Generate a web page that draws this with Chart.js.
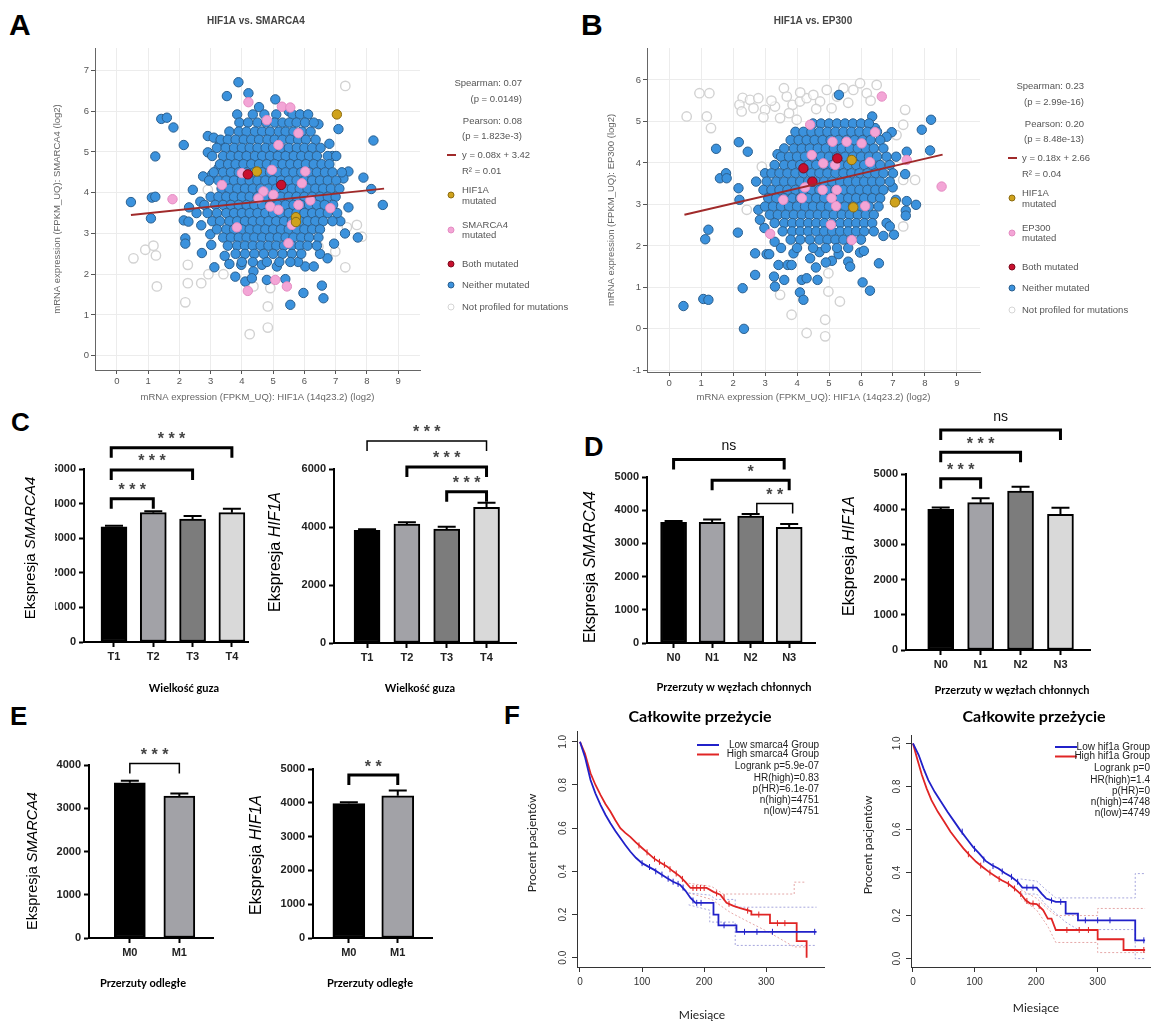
<!DOCTYPE html>
<html lang="pl">
<head>
<meta charset="utf-8">
<title>HIF1A, SMARCA4, EP300</title>
<script src="https://cdn.jsdelivr.net/npm/chart.js@4.4.1/dist/chart.umd.min.js"></script>
<style>
  body { margin: 0; background: #fff; }
  #page { position: relative; width: 1155px; height: 1023px; overflow: hidden; background: #fff; }
  #page canvas { position: absolute; left: 0; top: 0; }
  .panel { position: absolute; font-family: "Liberation Sans", Arial, sans-serif; font-weight: bold; line-height: 1; color: #000; }
</style>
</head>
<body>
<div id="page">
  <div class="panel" style="left:9px;top:10px;font-size:30px">A</div>
  <div class="panel" style="left:581px;top:10px;font-size:30px">B</div>
  <div class="panel" style="left:11px;top:409px;font-size:26px">C</div>
  <div class="panel" style="left:584px;top:434px;font-size:27px">D</div>
  <div class="panel" style="left:10px;top:703px;font-size:26px">E</div>
  <div class="panel" style="left:504px;top:702px;font-size:26px">F</div>
  <canvas id="chartA" width="1155" height="1023"></canvas>
  <canvas id="chartB" width="1155" height="1023"></canvas>
  <canvas id="chartC1" width="1155" height="1023"></canvas>
  <canvas id="chartC2" width="1155" height="1023"></canvas>
  <canvas id="chartD1" width="1155" height="1023"></canvas>
  <canvas id="chartD2" width="1155" height="1023"></canvas>
  <canvas id="chartE1" width="1155" height="1023"></canvas>
  <canvas id="chartE2" width="1155" height="1023"></canvas>
  <canvas id="chartF1" width="1155" height="1023"></canvas>
  <canvas id="chartF2" width="1155" height="1023"></canvas>
</div>
<script>
const W = 1155, H = 1023;
const SANS = '"Liberation Sans", Arial, sans-serif';
const HUMAN = 'Lato, "Open Sans", sans-serif';
Chart.defaults.font.family = SANS;

// ---------- A: HIF1A vs SMARCA4 (log2 expression) ----------
const aFit = [[0.45, 3.45], [8.55, 4.1]];
const aBoth = [[4.19, 4.45], [5.26, 4.19]];
const aHifMut = [[4.48, 4.52], [5.73, 3.4], [5.73, 3.28], [7.04, 5.92]];
const aSmarcaMut = [[4.21, 6.22], [5.28, 6.11], [5.55, 6.09], [4.8, 5.78], [5.81, 5.46], [5.17, 5.17], [4.0, 4.48],
  [4.96, 4.56], [6.03, 4.52], [4.69, 4.03], [5.01, 3.95], [3.36, 4.19], [4.91, 3.66], [5.17, 3.58], [5.81, 3.7],
  [6.19, 3.81], [6.83, 3.62], [1.78, 3.84], [3.84, 3.15], [5.6, 3.21], [5.49, 2.76], [5.07, 1.86], [5.44, 1.7],
  [4.19, 1.59], [5.92, 4.23], [4.53, 3.86]];
const aNeitherOut = [[0.45, 3.77], [1.09, 3.37], [1.12, 3.88], [1.23, 3.9], [1.23, 4.89], [1.42, 5.81], [1.6, 5.84],
  [1.81, 5.6], [2.14, 5.17], [2.14, 3.32], [2.29, 3.29], [2.31, 3.64], [2.19, 2.88], [2.19, 2.75], [2.43, 4.07],
  [2.67, 3.78], [2.72, 2.52], [3.02, 2.72], [2.99, 2.98], [3.12, 2.17], [2.76, 4.4], [2.91, 5.39], [2.91, 4.99],
  [3.52, 6.37], [3.89, 6.71], [3.79, 1.94], [4.11, 1.82], [4.21, 6.44], [5.07, 6.29], [5.55, 1.25], [5.97, 1.54],
  [6.03, 2.19], [6.3, 2.19], [6.56, 1.72], [6.61, 1.41], [6.74, 2.39], [6.45, 5.68], [7.09, 5.56], [7.71, 2.9],
  [7.89, 4.37], [8.14, 4.09], [8.21, 5.28], [8.51, 3.7], [7.41, 3.64], [7.41, 4.52], [7.25, 4.35], [5.39, 1.88],
  [5.12, 2.19], [4.8, 1.86], [4.64, 2.23], [4.37, 2.07], [3.98, 2.23], [4.32, 1.9], [3.3, 5.2], [3.1, 5.35],
  [3.25, 4.6], [3.05, 4.45], [2.55, 3.5], [2.7, 3.2], [7.3, 3.0], [7.15, 3.3], [6.95, 2.75], [6.8, 5.2],
  [4.55, 6.1], [5.5, 6.0], [3.45, 2.45], [3.6, 2.25], [5.8, 2.3], [6.5, 2.5], [6.9, 4.9]];
// dense core, one row per y level: [y, x, x, ...]
const aNeitherRows = [
  [5.92, 3.85, 4.35, 4.72, 5.1, 5.62, 5.86, 6.12],
  [5.72, 3.92, 4.2, 4.5, 4.78, 5.05, 5.3, 5.52, 5.75, 6.02, 6.3],
  [5.5, 3.6, 3.9, 4.15, 4.42, 4.65, 4.9, 5.18, 5.4, 5.65, 5.92, 6.2],
  [5.3, 3.32, 3.55, 3.8, 4.06, 4.3, 4.55, 4.82, 5.05, 5.3, 5.55, 5.8, 6.05, 6.36],
  [5.1, 3.2, 3.48, 3.75, 4.0, 4.25, 4.5, 4.76, 5.0, 5.25, 5.5, 5.76, 6.0, 6.25, 6.52],
  [4.9, 3.05, 3.4, 3.65, 3.9, 4.15, 4.42, 4.65, 4.9, 5.15, 5.4, 5.66, 5.9, 6.15, 6.4, 6.75, 7.02],
  [4.7, 3.3, 3.56, 3.8, 4.05, 4.3, 4.55, 4.8, 5.05, 5.3, 5.55, 5.8, 6.05, 6.3, 6.55, 6.8],
  [4.5, 3.1, 3.4, 3.65, 3.9, 4.16, 4.4, 4.65, 4.9, 5.15, 5.4, 5.65, 5.9, 6.15, 6.4, 6.66, 6.9, 7.2],
  [4.3, 2.95, 3.25, 3.5, 3.75, 4.0, 4.25, 4.5, 4.75, 5.0, 5.25, 5.5, 5.75, 6.0, 6.25, 6.5, 6.75, 7.02],
  [4.1, 3.35, 3.6, 3.85, 4.1, 4.35, 4.6, 4.85, 5.1, 5.35, 5.6, 5.85, 6.1, 6.35, 6.6, 6.85, 7.12],
  [3.9, 3.0, 3.25, 3.5, 3.75, 4.0, 4.25, 4.5, 4.75, 5.0, 5.25, 5.5, 5.75, 6.0, 6.25, 6.5, 6.75, 7.0],
  [3.7, 2.8, 3.15, 3.4, 3.65, 3.9, 4.15, 4.4, 4.65, 4.9, 5.15, 5.4, 5.65, 5.9, 6.15, 6.4, 6.65, 6.92],
  [3.5, 2.9, 3.2, 3.5, 3.75, 4.0, 4.25, 4.5, 4.75, 5.0, 5.25, 5.5, 5.75, 6.0, 6.25, 6.5, 6.75, 7.05],
  [3.3, 3.05, 3.3, 3.6, 3.85, 4.1, 4.35, 4.6, 4.85, 5.1, 5.35, 5.6, 5.85, 6.1, 6.35, 6.6, 6.9],
  [3.1, 3.2, 3.5, 3.75, 4.0, 4.25, 4.5, 4.75, 5.0, 5.25, 5.5, 5.75, 6.0, 6.25, 6.5],
  [2.9, 3.4, 3.65, 3.9, 4.15, 4.4, 4.65, 4.9, 5.15, 5.4, 5.65, 5.9, 6.15, 6.45],
  [2.7, 3.55, 3.85, 4.1, 4.35, 4.6, 4.85, 5.1, 5.35, 5.6, 5.85, 6.1, 6.4],
  [2.5, 3.8, 4.1, 4.4, 4.7, 5.0, 5.3, 5.6, 5.9],
  [2.3, 4.0, 4.35, 4.8, 5.2, 5.55]
];
const aNotProfiled = [[7.31, 6.62], [0.53, 2.39], [0.91, 2.6], [1.17, 2.7], [1.25, 2.46], [1.28, 1.7], [2.19, 1.31],
  [2.27, 2.23], [2.27, 1.78], [2.7, 1.78], [2.93, 2.0], [3.41, 2.0], [2.91, 4.07], [4.25, 0.53], [4.83, 0.69],
  [4.83, 1.21], [4.91, 1.66], [4.37, 1.7], [7.31, 2.17], [6.99, 2.56], [7.36, 3.15], [7.68, 3.21], [6.45, 2.68],
  [7.84, 2.92]];

// ---------- B: HIF1A vs EP300 ----------
const bFit = [[0.48, 2.75], [8.55, 4.2]];
const bBoth = [[4.2, 3.87], [5.26, 4.11], [4.48, 3.55]];
const bHifMut = [[5.71, 4.07], [5.76, 2.93], [7.06, 3.05]];
const bEp300Mut = [[4.41, 4.92], [6.65, 5.6], [6.44, 4.74], [4.46, 4.19], [4.82, 3.99], [5.11, 4.51], [5.55, 4.51],
  [6.02, 4.47], [5.19, 3.95], [6.28, 4.02], [7.43, 4.07], [4.25, 3.41], [4.15, 3.15], [3.57, 3.11], [5.24, 3.35],
  [5.08, 3.15], [5.22, 2.96], [6.13, 2.96], [5.06, 2.51], [5.71, 2.14], [3.16, 2.29], [8.52, 3.43], [4.8, 3.35]];
const bNeitherOut = [[0.45, 0.55], [1.07, 0.72], [1.23, 0.7], [1.13, 2.16], [1.23, 2.39], [1.47, 4.34], [1.59, 3.63],
  [1.78, 3.75], [1.8, 3.63], [2.18, 4.5], [2.17, 3.39], [2.2, 3.11], [2.15, 2.32], [2.46, 4.27], [2.34, 0.0],
  [2.3, 0.98], [2.69, 1.3], [2.69, 1.82], [3.05, 1.8], [3.13, 1.8], [3.28, 1.26], [3.31, 1.02], [3.42, 1.54],
  [3.6, 1.18], [3.71, 1.54], [3.83, 1.54], [3.89, 1.82], [4.09, 0.88], [4.2, 0.7], [4.15, 1.18], [4.3, 1.22],
  [4.64, 1.18], [4.59, 1.48], [4.41, 1.7], [5.09, 1.64], [5.6, 1.62], [5.66, 1.5], [6.05, 1.12], [6.28, 0.92],
  [5.97, 1.84], [6.09, 1.88], [6.56, 1.58], [5.31, 5.64], [6.35, 5.12], [7.9, 4.8], [8.19, 5.04], [8.16, 4.3],
  [7.72, 2.99], [7.4, 2.85], [7.4, 2.73], [7.03, 2.27], [6.7, 2.24], [6.99, 3.41], [7.38, 3.73], [7.43, 4.27],
  [6.96, 4.74], [6.8, 4.63], [6.44, 4.84], [6.8, 2.55], [6.9, 2.47], [7.09, 3.11], [7.43, 3.08], [2.72, 3.55],
  [2.84, 2.63], [2.79, 2.87], [2.98, 2.43], [3.14, 3.27], [3.39, 4.21], [3.0, 3.75], [3.5, 1.95], [3.3, 2.1],
  [4.7, 1.85], [5.3, 1.8], [4.9, 1.6]];
const bNeitherRows = [
  [4.95, 4.5, 4.75, 5.0, 5.25, 5.5, 5.75, 6.0, 6.25],
  [4.75, 3.95, 4.2, 4.45, 4.7, 4.95, 5.2, 5.45, 5.7, 5.95, 6.2, 6.5],
  [4.55, 3.8, 4.05, 4.3, 4.55, 4.8, 5.05, 5.3, 5.55, 5.8, 6.05, 6.3, 6.6],
  [4.35, 3.6, 3.9, 4.15, 4.4, 4.65, 4.9, 5.15, 5.4, 5.65, 5.9, 6.15, 6.4, 6.7],
  [4.15, 3.5, 3.75, 4.0, 4.25, 4.5, 4.75, 5.0, 5.25, 5.5, 5.75, 6.0, 6.25, 6.5, 6.8, 7.1],
  [3.95, 3.3, 3.6, 3.85, 4.1, 4.35, 4.6, 4.85, 5.1, 5.35, 5.6, 5.85, 6.1, 6.35, 6.6, 6.9],
  [3.75, 3.2, 3.45, 3.7, 3.95, 4.2, 4.45, 4.7, 4.95, 5.2, 5.45, 5.7, 5.95, 6.2, 6.45, 6.7, 7.0],
  [3.55, 3.05, 3.35, 3.6, 3.85, 4.1, 4.35, 4.6, 4.85, 5.1, 5.35, 5.6, 5.85, 6.1, 6.35, 6.6, 6.9],
  [3.35, 2.95, 3.2, 3.45, 3.7, 3.95, 4.2, 4.45, 4.7, 4.95, 5.2, 5.45, 5.7, 5.95, 6.2, 6.45, 6.7],
  [3.15, 3.1, 3.35, 3.6, 3.85, 4.1, 4.35, 4.6, 4.85, 5.1, 5.35, 5.6, 5.85, 6.1, 6.35, 6.6],
  [2.95, 3.0, 3.25, 3.5, 3.75, 4.0, 4.25, 4.5, 4.75, 5.0, 5.25, 5.5, 5.75, 6.0, 6.25, 6.55],
  [2.75, 3.15, 3.4, 3.65, 3.9, 4.15, 4.4, 4.65, 4.9, 5.15, 5.4, 5.65, 5.9, 6.15, 6.4],
  [2.55, 3.3, 3.6, 3.85, 4.1, 4.35, 4.6, 4.85, 5.1, 5.35, 5.6, 5.85, 6.1, 6.35],
  [2.35, 3.55, 3.85, 4.1, 4.35, 4.6, 4.85, 5.1, 5.35, 5.6, 5.85, 6.1, 6.4],
  [2.15, 3.8, 4.1, 4.4, 4.7, 4.95, 5.2, 5.45, 5.7, 6.0],
  [1.95, 4.0, 4.5, 4.9, 5.25, 5.6]
];
const bNotProfiled = [[0.95, 5.68], [1.26, 5.68], [0.55, 5.12], [1.18, 5.12], [1.31, 4.84], [2.3, 5.57], [2.2, 5.4],
  [2.53, 5.52], [2.79, 5.56], [2.27, 5.24], [2.64, 5.32], [3.0, 5.28], [3.31, 5.36], [3.47, 5.08], [3.59, 5.8],
  [3.68, 5.6], [3.86, 5.4], [4.09, 5.48], [3.99, 5.04], [4.3, 5.56], [4.51, 5.64], [4.72, 5.48], [4.93, 5.76],
  [5.08, 5.32], [5.45, 5.8], [5.76, 5.76], [5.97, 5.92], [6.18, 5.68], [6.49, 5.88], [7.38, 5.28], [7.32, 4.92],
  [7.11, 4.67], [7.32, 3.59], [7.69, 3.59], [7.32, 2.47], [2.43, 2.87], [2.9, 3.91], [4.98, 1.34], [4.98, 0.9],
  [3.47, 0.82], [3.83, 0.34], [4.88, 0.22], [4.3, -0.1], [4.88, -0.18], [5.34, 0.66], [3.2, 5.5], [3.75, 5.2],
  [4.6, 5.3], [5.25, 5.6], [5.6, 5.45], [6.3, 5.5], [4.1, 5.7], [2.95, 5.1]];

// ---------- C, D, E: mean expression with SEM and significance ----------
const tLabels = ['T1', 'T2', 'T3', 'T4'];
const nLabels = ['N0', 'N1', 'N2', 'N3'];
const mLabels = ['M0', 'M1'];
const barColors = ['#000000', '#a2a2a7', '#7c7c7c', '#d9d9d9'];

const cSmarcaMean = [3332, 3737, 3555, 3737];
const cSmarcaErr = [30, 40, 85, 115];
const cHifMean = [3886, 4103, 3931, 4679];
const cHifErr = [40, 60, 80, 160];
const dSmarcaMean = [3633, 3633, 3822, 3483];
const dSmarcaErr = [40, 90, 60, 100];
const dHifMean = [3997, 4185, 4517, 3855];
const dHifErr = [50, 125, 123, 188];
const eSmarcaMean = [3588, 3280];
const eSmarcaErr = [46, 62];
const eHifMean = [3977, 4205];
const eHifErr = [40, 157];

// [from, to, level, label, thick]
const cSmarcaSig = [[0.93, 2, 4142, '***', 1], [0.93, 3, 4971, '***', 1], [0.93, 4, 5616, '***', 1]];
const cHifSig = [[1, 4, 6966, '***', 0], [2, 4, 6069, '***', 1], [3, 4, 5217, '***', 1]];
const dSmarcaSig = [[1, 3.87, 5525, 'ns', 1], [2, 4, 4904, '*', 1], [3.16, 4.09, 4204, '**', 0]];
const dHifSig = [[1, 2, 4867, '***', 1], [1, 3, 5616, '***', 1], [1, 4, 6250, 'ns', 1]];
const eSmarcaSig = [[1, 2, 4037, '***', 0]];
const eHifSig = [[1, 2, 4819, '**', 1]];

// ---------- F: Kaplan-Meier, [month, survival] ----------
const fMonthTicks = [0, 100, 200, 300];
const fSmarcaLow = [[0, 1], [8, 0.93], [17, 0.823], [25, 0.76], [33, 0.708], [41, 0.662], [49, 0.623], [57, 0.587],
  [65, 0.554], [73, 0.522], [81, 0.492], [90, 0.463], [100, 0.438], [110, 0.422], [119, 0.408], [130, 0.388],
  [140, 0.369], [150, 0.352], [161, 0.338], [170, 0.31], [178, 0.277], [186, 0.254], [215, 0.254], [215, 0.2],
  [223, 0.2], [223, 0.15], [252, 0.15], [252, 0.12], [381, 0.12]];
const fSmarcaHigh = [[0, 1], [8, 0.945], [17, 0.854], [25, 0.8], [33, 0.754], [41, 0.712], [49, 0.677], [57, 0.637],
  [65, 0.6], [73, 0.578], [81, 0.56], [90, 0.534], [100, 0.508], [110, 0.483], [119, 0.46], [130, 0.44],
  [140, 0.423], [150, 0.4], [161, 0.377], [170, 0.35], [178, 0.323], [204, 0.323], [215, 0.305], [226, 0.292],
  [236, 0.254], [247, 0.24], [258, 0.23], [276, 0.215], [276, 0.2], [306, 0.2], [306, 0.16], [349, 0.16],
  [349, 0.077], [365, 0.077], [365, 0.0]];
const fSmarcaLowCens = [[100, 0.438], [112, 0.42], [122, 0.4], [132, 0.385], [142, 0.366], [150, 0.352],
  [158, 0.342], [166, 0.325], [182, 0.265], [188, 0.254], [195, 0.254], [232, 0.15], [265, 0.12], [285, 0.12],
  [310, 0.12], [378, 0.12]];
const fSmarcaHighCens = [[95, 0.52], [108, 0.488], [120, 0.458], [128, 0.444], [136, 0.43], [145, 0.41],
  [155, 0.39], [165, 0.365], [182, 0.323], [188, 0.323], [194, 0.323], [200, 0.323], [220, 0.298], [232, 0.28],
  [240, 0.25], [270, 0.218], [288, 0.2], [318, 0.16], [330, 0.16]];
const fSmarcaLowCI = [[[175, 0.3], [209, 0.29], [219, 0.27], [250, 0.27], [250, 0.234], [381, 0.234]],
  [[175, 0.245], [209, 0.22], [209, 0.165], [250, 0.165], [250, 0.057], [381, 0.057]]];
const fSmarcaHighCI = [[[175, 0.345], [212, 0.33], [231, 0.295], [345, 0.295], [345, 0.35], [363, 0.35]],
  [[175, 0.3], [212, 0.27], [242, 0.21], [272, 0.165], [303, 0.12], [345, 0.05], [363, 0.05]]];

const fHifLow = [[0, 1], [9.3, 0.946], [17.1, 0.884], [24.9, 0.829], [35.2, 0.775], [45.6, 0.729], [56, 0.682],
  [66.3, 0.64], [76.7, 0.597], [87, 0.558], [97.4, 0.519], [107.8, 0.488], [118, 0.454], [128.5, 0.434],
  [138.9, 0.419], [149, 0.398], [159.6, 0.38], [170, 0.357], [177.7, 0.33], [201, 0.33], [209, 0.302],
  [216.6, 0.279], [232, 0.264], [248, 0.264], [248, 0.209], [268, 0.209], [268, 0.178], [361, 0.178],
  [361, 0.085], [377, 0.085]];
const fHifHigh = [[0, 1], [6.7, 0.93], [14.5, 0.853], [22.3, 0.79], [30, 0.736], [40.4, 0.682], [50.8, 0.636],
  [61, 0.589], [71.5, 0.55], [81.9, 0.512], [92.2, 0.48], [102.6, 0.45], [113, 0.426], [123.3, 0.403],
  [133.7, 0.383], [144, 0.364], [154.4, 0.349], [164.8, 0.326], [175, 0.3], [183, 0.271], [190.7, 0.256],
  [201, 0.253], [211.4, 0.225], [219, 0.186], [225, 0.186], [232, 0.133], [300, 0.133], [300, 0.09],
  [342, 0.09], [342, 0.04], [377, 0.04]];
const fHifLowCens = [[80, 0.59], [100, 0.51], [115, 0.46], [130, 0.43], [145, 0.405], [160, 0.38], [170, 0.357],
  [185, 0.33], [195, 0.33], [225, 0.27], [240, 0.264], [280, 0.178], [300, 0.178], [320, 0.178], [375, 0.085]];
const fHifHighCens = [[90, 0.485], [110, 0.432], [125, 0.4], [140, 0.37], [155, 0.347], [165, 0.326], [175, 0.3],
  [185, 0.268], [195, 0.256], [205, 0.245], [250, 0.133], [270, 0.133], [285, 0.133], [375, 0.04]];
const fHifLowCI = [[[175, 0.37], [201, 0.36], [216, 0.32], [232, 0.282], [361, 0.282], [361, 0.395], [377, 0.395]],
  [[175, 0.3], [201, 0.3], [216, 0.25], [248, 0.17], [268, 0.135], [361, 0.135], [361, 0.0], [377, 0.0]]];
const fHifHighCI = [[[175, 0.32], [201, 0.28], [219, 0.23], [232, 0.2], [300, 0.2], [300, 0.233], [377, 0.233]],
  [[175, 0.28], [201, 0.225], [219, 0.15], [232, 0.075], [300, 0.075], [300, 0.028], [377, 0.028]]];

// ---------- plugins ----------
// free text / legend bits, page coordinates (every canvas covers the page)
const decor = {
  id: 'decor',
  afterDraw(chart, args, opts) {
    const ctx = chart.ctx;
    (opts.items || []).forEach(it => {
      ctx.save();
      if (it.t === 'rect') {
        ctx.fillStyle = it.c;
        ctx.fillRect(it.x, it.y, it.w, it.h);
      } else if (it.t === 'line') {
        ctx.strokeStyle = it.c;
        ctx.lineWidth = it.w || 1;
        ctx.beginPath();
        ctx.moveTo(it.x1, it.y1);
        ctx.lineTo(it.x2, it.y2);
        ctx.stroke();
      } else if (it.t === 'dot') {
        ctx.fillStyle = it.f;
        ctx.strokeStyle = it.s;
        ctx.lineWidth = 1;
        ctx.beginPath();
        ctx.arc(it.x, it.y, 3, 0, Math.PI * 2);
        ctx.fill();
        ctx.stroke();
      } else {
        ctx.translate(it.x, it.y);
        if (it.rot) ctx.rotate(it.rot * Math.PI / 180);
        const parts = it.parts || [[it.text, it.font || '9.5px ' + SANS]];
        ctx.fillStyle = it.c || '#555';
        ctx.textBaseline = 'middle';
        ctx.textAlign = 'left';
        let w = 0;
        parts.forEach(p => { ctx.font = p[1]; w += ctx.measureText(p[0]).width; });
        let x = it.align === 'right' ? -w : it.align === 'left' ? 0 : -w / 2;
        parts.forEach(p => { ctx.font = p[1]; ctx.fillText(p[0], x, 0); x += ctx.measureText(p[0]).width; });
      }
      ctx.restore();
    });
  }
};

// upper SEM whiskers
const errBars = {
  id: 'errBars',
  afterDatasetsDraw(chart, args, opts) {
    if (!opts.err) return;
    const {ctx, scales: {x, y}} = chart;
    const pts = chart.data.datasets[0].data;
    ctx.save();
    ctx.strokeStyle = '#000';
    ctx.lineWidth = 2;
    opts.err.forEach((e, i) => {
      const px = x.getPixelForValue(pts[i].x);
      const y0 = y.getPixelForValue(pts[i].y);
      const y1 = y.getPixelForValue(pts[i].y + e);
      ctx.beginPath();
      ctx.moveTo(px, y0); ctx.lineTo(px, y1);
      ctx.moveTo(px - 9, y1); ctx.lineTo(px + 9, y1);
      ctx.stroke();
    });
    ctx.restore();
  }
};

// significance brackets
const sigBars = {
  id: 'sigBars',
  afterDatasetsDraw(chart, args, opts) {
    if (!opts.items) return;
    const {ctx, scales: {x, y}} = chart;
    opts.items.forEach(([a, b, v, txt, thick]) => {
      const x1 = x.getPixelForValue(a), x2 = x.getPixelForValue(b), yy = y.getPixelForValue(v);
      ctx.save();
      ctx.strokeStyle = '#000';
      ctx.lineWidth = thick ? 3 : 1.5;
      ctx.beginPath();
      ctx.moveTo(x1, yy + 10); ctx.lineTo(x1, yy); ctx.lineTo(x2, yy); ctx.lineTo(x2, yy + 10);
      ctx.stroke();
      ctx.textAlign = 'center';
      ctx.textBaseline = 'middle';
      if (txt === 'ns') {
        ctx.fillStyle = '#111';
        ctx.font = '14px ' + SANS;
        ctx.fillText(txt, (x1 + x2) / 2, yy - 13);
      } else {
        ctx.fillStyle = '#444';
        ctx.font = 'bold 16px ' + SANS;
        ctx.fillText(txt.split('').join(' '), (x1 + x2) / 2, yy - 8);
      }
      ctx.restore();
    });
  }
};

Chart.register(decor, errBars, sigBars);

const xy = pts => pts.map(p => ({x: p[0], y: p[1]}));
const fromRows = rows => {
  const out = [];
  rows.forEach(r => r.slice(1).forEach(x => out.push([x, r[0]])));
  return out;
};

// ---------- scatter panels ----------
function scatterPanel(id, g) {
  const dot = (pts, fill, line, bw) => ({
    data: xy(pts), backgroundColor: fill, borderColor: line, borderWidth: bw || 1, pointRadius: 4.7
  });
  const axisFont = {family: SANS, size: 9.5};
  new Chart(document.getElementById(id), {
    type: 'scatter',
    data: {datasets: [
      {data: xy(g.fit), showLine: true, borderColor: '#a02a2a', borderWidth: 2, pointRadius: 0},
      dot(g.both, '#c8102e', '#7d0b1d'),
      dot(g.hif, '#cfa21c', '#8c6c10'),
      dot(g.mut, '#f3a5d6', '#e48cc2'),
      dot(g.blue, '#3b92dd', '#2b5f8e'),
      dot(g.none, 'rgba(255,255,255,0.6)', '#d2d2d2', 1.4)
    ]},
    options: {
      responsive: false, animation: false, events: [],
      layout: {padding: {left: g.l - g.yw, right: W - g.r, top: g.t, bottom: H - g.b - g.xh}},
      plugins: {legend: {display: false}, tooltip: {enabled: false}, decor: {items: g.decor}},
      scales: {
        x: {min: g.x[0], max: g.x[1], afterFit: s => { s.height = g.xh; },
          ticks: {stepSize: 1, includeBounds: false, color: '#555', font: axisFont, padding: 2, maxRotation: 0},
          grid: {color: '#ececec', tickLength: 4, tickColor: '#555'},
          border: {color: '#666'},
          title: {display: true, text: g.xTitle, color: '#666', font: axisFont, padding: 0}},
        y: {min: g.y[0], max: g.y[1], afterFit: s => { s.width = g.yw; },
          ticks: {stepSize: 1, includeBounds: false, color: '#555', font: axisFont, padding: 2},
          grid: {color: '#ececec', tickLength: 4, tickColor: '#555'},
          border: {color: '#666'},
          title: {display: true, text: g.yTitle, color: '#666', font: axisFont, padding: 0}}
      }
    }
  });
}

function scatterLegend(g) {
  return [
    {x: g.tx, y: 21, text: g.title, font: 'bold 10px ' + SANS, c: '#444'},
    {x: g.rx, y: g.y0, text: g.stats[0], align: 'right'},
    {x: g.rx, y: g.y0 + 16, text: g.stats[1], align: 'right'},
    {x: g.rx, y: g.y0 + 38, text: g.stats[2], align: 'right'},
    {x: g.rx, y: g.y0 + 53, text: g.stats[3], align: 'right'},
    {t: 'line', x1: g.dx - 4, y1: g.y0 + 72, x2: g.dx + 5, y2: g.y0 + 72, c: '#a02a2a', w: 2},
    {x: g.lx, y: g.y0 + 72, text: g.stats[4], align: 'left'},
    {x: g.lx, y: g.y0 + 88, text: g.stats[5], align: 'left'},
    {t: 'dot', x: g.dx, y: g.y0 + 112, f: '#cfa21c', s: '#8c6c10'},
    {x: g.lx, y: g.y0 + 107, text: 'HIF1A', align: 'left'},
    {x: g.lx, y: g.y0 + 118, text: 'mutated', align: 'left'},
    {t: 'dot', x: g.dx, y: g.y0 + 147, f: '#f3a5d6', s: '#e48cc2'},
    {x: g.lx, y: g.y0 + 142, text: g.gene, align: 'left'},
    {x: g.lx, y: g.y0 + 152, text: 'mutated', align: 'left'},
    {t: 'dot', x: g.dx, y: g.y0 + 181, f: '#c8102e', s: '#7d0b1d'},
    {x: g.lx, y: g.y0 + 181, text: 'Both mutated', align: 'left'},
    {t: 'dot', x: g.dx, y: g.y0 + 202, f: '#3b92dd', s: '#2b5f8e'},
    {x: g.lx, y: g.y0 + 202, text: 'Neither mutated', align: 'left'},
    {t: 'dot', x: g.dx, y: g.y0 + 224, f: '#fff', s: '#d5d5d5'},
    {x: g.lx, y: g.y0 + 224, text: 'Not profiled for mutations', align: 'left'}
  ];
}

scatterPanel('chartA', {
  l: 95, r: 420, t: 48, b: 370, yw: 43.4, xh: 33.4, x: [-0.7, 9.7], y: [-0.35, 7.55],
  fit: aFit, both: aBoth, hif: aHifMut, mut: aSmarcaMut, none: aNotProfiled,
  blue: aNeitherOut.concat(fromRows(aNeitherRows)),
  xTitle: 'mRNA expression (FPKM_UQ): HIF1A (14q23.2) (log2)',
  yTitle: 'mRNA expression (FPKM_UQ): SMARCA4 (log2)',
  decor: scatterLegend({tx: 256, rx: 522, lx: 462, dx: 451, y0: 83, title: 'HIF1A vs. SMARCA4', gene: 'SMARCA4',
    stats: ['Spearman: 0.07', '(p = 0.0149)', 'Pearson: 0.08', '(p = 1.823e-3)', 'y = 0.08x + 3.42', 'R² = 0.01']})
});

scatterPanel('chartB', {
  l: 647, r: 980, t: 48, b: 372, yw: 41.4, xh: 31.4, x: [-0.69, 9.72], y: [-1.04, 6.77],
  fit: bFit, both: bBoth, hif: bHifMut, mut: bEp300Mut, none: bNotProfiled,
  blue: bNeitherOut.concat(fromRows(bNeitherRows)),
  xTitle: 'mRNA expression (FPKM_UQ): HIF1A (14q23.2) (log2)',
  yTitle: 'mRNA expression (FPKM_UQ): EP300 (log2)',
  decor: scatterLegend({tx: 813, rx: 1084, lx: 1022, dx: 1012, y0: 86, title: 'HIF1A vs. EP300', gene: 'EP300',
    stats: ['Spearman: 0.23', '(p = 2.99e-16)', 'Pearson: 0.20', '(p = 8.48e-13)', 'y = 0.18x + 2.66', 'R² = 0.04']})
});

// ---------- bar panels ----------
function barPanel(id, g) {
  const tickFont = {family: SANS, size: 11, weight: 'bold'};
  new Chart(document.getElementById(id), {
    type: 'bar',
    data: {datasets: [{
      data: g.mean.map((v, i) => ({x: i + 1, y: v})),
      backgroundColor: barColors.slice(0, g.mean.length),
      borderColor: '#000', borderWidth: 2, borderSkipped: false, barThickness: g.bw
    }]},
    options: {
      responsive: false, animation: false, events: [],
      layout: {padding: {left: g.l - 40, right: W - g.r, top: g.t, bottom: H - g.b - 25}},
      plugins: {legend: {display: false}, tooltip: {enabled: false},
        errBars: {err: g.err}, sigBars: {items: g.sig}, decor: {items: g.decor}},
      scales: {
        x: {type: 'linear', min: g.x[0], max: g.x[1], offset: false,
          afterFit: s => { s.height = 25; },
          afterBuildTicks: s => { s.ticks = g.labels.map((_, i) => ({value: i + 1})); },
          ticks: {callback: v => g.labels[v - 1], color: '#222', font: tickFont, padding: 3, autoSkip: false, maxRotation: 0},
          grid: {drawOnChartArea: false, offset: false, tickLength: 5, tickWidth: 2, tickColor: '#000'},
          border: {width: 2, color: '#000'}},
        y: {min: 0, max: g.ymax, afterFit: s => { s.width = 40; },
          ticks: {stepSize: g.step, color: '#222', font: tickFont, padding: 3, callback: v => String(v)},
          grid: {drawOnChartArea: false, tickLength: 5, tickWidth: 2, tickColor: '#000'},
          border: {width: 2, color: '#000'}}
      }
    }
  });
}

const yTitle = (x, y, size, gene) => ({x, y, rot: -90, c: '#000',
  parts: [['Ekspresja ', size + 'px ' + SANS], [gene, 'italic ' + size + 'px ' + SANS]]});
const xTitle = (x, y, text) => ({x, y, text, c: '#000', font: 'bold 11px ' + HUMAN});

barPanel('chartC1', {l: 84, r: 248, t: 469, b: 642, x: [0.237, 4.41], ymax: 5000, step: 1000, bw: 26,
  labels: tLabels, mean: cSmarcaMean, err: cSmarcaErr, sig: cSmarcaSig,
  decor: [{t: 'rect', x: 41, y: 455, w: 14, h: 200, c: '#fff'}, yTitle(31, 548, 15, 'SMARCA4'), xTitle(184, 688, 'Wielkość guza')]});
barPanel('chartC2', {l: 334, r: 516, t: 469, b: 643, x: [0.17, 4.74], ymax: 6000, step: 2000, bw: 26,
  labels: tLabels, mean: cHifMean, err: cHifErr, sig: cHifSig,
  decor: [yTitle(276, 552, 16, 'HIF1A'), xTitle(420, 688, 'Wielkość guza')]});
barPanel('chartD1', {l: 647, r: 815, t: 477, b: 643, x: [0.31, 4.67], ymax: 5000, step: 1000, bw: 26,
  labels: nLabels, mean: dSmarcaMean, err: dSmarcaErr, sig: dSmarcaSig,
  decor: [yTitle(591, 567, 16, 'SMARCA4'), xTitle(734, 687, 'Przerzuty w węzłach chłonnych')]});
barPanel('chartD2', {l: 906, r: 1090, t: 474, b: 650, x: [0.13, 4.74], ymax: 5000, step: 1000, bw: 26,
  labels: nLabels, mean: dHifMean, err: dHifErr, sig: dHifSig,
  decor: [yTitle(850, 556, 16, 'HIF1A'), xTitle(1012, 690, 'Przerzuty w węzłach chłonnych')]});
barPanel('chartE1', {l: 89, r: 213, t: 765, b: 938, x: [0.175, 2.68], ymax: 4000, step: 1000, bw: 31,
  labels: mLabels, mean: eSmarcaMean, err: eSmarcaErr, sig: eSmarcaSig,
  decor: [yTitle(33, 861, 14.5, 'SMARCA4'), xTitle(143, 983, 'Przerzuty odległe')]});
barPanel('chartE2', {l: 313, r: 432, t: 769, b: 938, x: [0.267, 2.7], ymax: 5000, step: 1000, bw: 32,
  labels: mLabels, mean: eHifMean, err: eHifErr, sig: eHifSig,
  decor: [yTitle(257, 855, 16, 'HIF1A'), xTitle(370, 983, 'Przerzuty odległe')]});

// ---------- survival panels ----------
const BLUE = '#2121c9', RED = '#e02525';

function kmPanel(id, g) {
  const curve = (pts, c) => ({data: xy(pts), showLine: true, borderColor: c, borderWidth: 1.8, pointRadius: 0});
  const cens = (pts, c) => ({data: xy(pts), pointStyle: 'line', rotation: 90, pointRadius: 3,
    borderColor: c, backgroundColor: c, borderWidth: 1});
  const band = (pts, c) => ({data: xy(pts), showLine: true, borderColor: c, borderWidth: 1, borderDash: [2, 2], pointRadius: 0});
  const tickFont = {family: SANS, size: 10};
  new Chart(document.getElementById(id), {
    type: 'scatter',
    data: {datasets: [
      curve(g.low, BLUE), curve(g.high, RED), cens(g.lowC, BLUE), cens(g.highC, RED),
      band(g.lowCI[0], '#a7a7dd'), band(g.lowCI[1], '#a7a7dd'),
      band(g.highCI[0], '#e5a8a8'), band(g.highCI[1], '#e5a8a8')
    ]},
    options: {
      responsive: false, animation: false, events: [],
      layout: {padding: {left: g.l - 30, right: W - g.r, top: g.t, bottom: H - g.b - 25}},
      plugins: {legend: {display: false}, tooltip: {enabled: false}, decor: {items: g.decor}},
      scales: {
        x: {min: g.x[0], max: g.x[1], afterFit: s => { s.height = 25; },
          afterBuildTicks: s => { s.ticks = fMonthTicks.map(v => ({value: v})); },
          ticks: {color: '#333', font: tickFont, padding: 4, maxRotation: 0, callback: v => String(v)},
          grid: {drawOnChartArea: false, tickLength: 5, tickColor: '#333'},
          border: {color: '#333'}},
        y: {min: g.y[0], max: g.y[1], afterFit: s => { s.width = 30; },
          ticks: {stepSize: 0.2, includeBounds: false, minRotation: 90, maxRotation: 90, crossAlign: 'center',
            padding: 2, color: '#333', font: tickFont, callback: v => v.toFixed(1)},
          grid: {drawOnChartArea: false, tickLength: 5, tickColor: '#333'},
          border: {color: '#333'}}
      }
    }
  });
}

function kmDecor(g) {
  const items = [
    {x: g.tx, y: 717, text: 'Całkowite przeżycie', font: 'bold 16px ' + HUMAN, c: '#000'},
    {x: g.yx, y: g.yy, rot: -90, text: 'Procent pacjentów', font: '12px ' + HUMAN, c: '#222'},
    {x: g.mx, y: g.my, text: 'Miesiące', font: '12px ' + HUMAN, c: '#222'},
    {t: 'line', x1: g.lx[0], y1: g.rows[0], x2: g.lx[1], y2: g.rows[0], c: BLUE, w: 2},
    {t: 'line', x1: g.lx[0], y1: g.rows[1], x2: g.lx[1], y2: g.rows[1], c: RED, w: 2}
  ];
  g.text.forEach((s, i) => items.push({x: g.rx, y: g.rows[i], text: s, align: 'right', c: '#222', font: '10px ' + SANS}));
  return items;
}

kmPanel('chartF1', {l: 577, r: 824, t: 731, b: 967, x: [-4.8, 393], y: [-0.043, 1.05],
  low: fSmarcaLow, high: fSmarcaHigh, lowC: fSmarcaLowCens, highC: fSmarcaHighCens,
  lowCI: fSmarcaLowCI, highCI: fSmarcaHighCI,
  decor: kmDecor({tx: 700, yx: 532, yy: 843, mx: 702, my: 1015, lx: [697, 719], rx: 819,
    rows: [745, 754.5, 766, 778, 789, 800, 811],
    text: ['Low smarca4 Group', 'High smarca4 Group', 'Logrank p=5.9e-07', 'HR(high)=0.83', 'p(HR)=6.1e-07',
      'n(high)=4751', 'n(low)=4751']})});
kmPanel('chartF2', {l: 911, r: 1155, t: 735, b: 967, x: [-3.2, 385], y: [-0.039, 1.039],
  low: fHifLow, high: fHifHigh, lowC: fHifLowCens, highC: fHifHighCens,
  lowCI: fHifLowCI, highCI: fHifHighCI,
  decor: kmDecor({tx: 1034, yx: 868, yy: 845, mx: 1036, my: 1008, lx: [1055, 1077], rx: 1150,
    rows: [747, 756.5, 768.5, 780, 791, 802, 813],
    text: ['Low hif1a Group', 'High hif1a Group', 'Logrank p=0', 'HR(high)=1.4', 'p(HR)=0',
      'n(high)=4748', 'n(low)=4749']})});
</script>
</body>
</html>
